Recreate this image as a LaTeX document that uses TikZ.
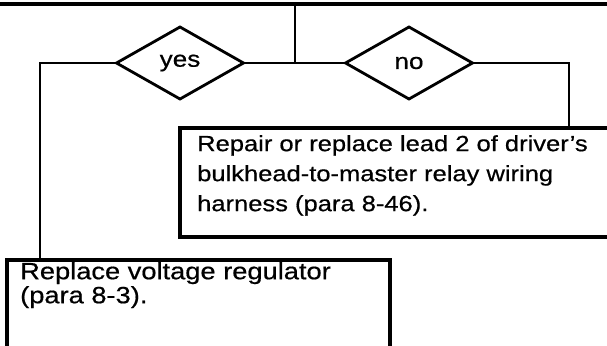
\documentclass[tikz,border=0pt]{standalone}
\usepackage{fontspec}
\newfontfamily\flowfont[FakeStretch=1.16, FakeBold=0.6]{Liberation Sans}
\usetikzlibrary{shapes.geometric, positioning}

\begin{document}
\begin{tikzpicture}[x=1pt, y=-1pt,
  decision/.style={diamond, draw, line width=2.8pt, minimum width=127pt,
    minimum height=72pt, inner sep=0pt, outer sep=0pt,
    font=\flowfont\fontsize{22.5}{26}\selectfont},
  actionbox/.style={rectangle, draw, line width=3.3pt, inner sep=0pt,
    outer sep=0pt, anchor=north west},
  boxtext/.style={align=left, inner sep=0pt, anchor=north west},
  flowline/.style={line width=2.8pt}]
  \useasboundingbox (0,0) rectangle (607,345);
  \clip (0,0) rectangle (607,345);

  % previous step, only its bottom edge is in view
  \node[actionbox, anchor=south west, line width=3.8pt, minimum width=660pt,
    minimum height=60pt] (prevstep) at (-20,4) {};

  % the two answers
  \node[decision] (yes) at (180,63) {yes};
  \node[decision] (no) at (409,63) {no};

  % actions
  \node[actionbox, minimum width=460pt, minimum height=109pt] (repair) at (180,128) {};
  \node[boxtext, font=\flowfont\fontsize{22}{30}\selectfont] (repairtxt)
    at ([xshift=17pt, yshift=-7pt]repair.north west)
    {Repair or replace lead 2 of driver’s\\bulkhead-to-master relay wiring\\harness (para 8-46).};

  \node[actionbox, minimum width=383pt, minimum height=110pt] (replace) at (7,260) {};
  \node[boxtext, font=\flowfont\fontsize{23.5}{24}\selectfont] (replacetxt)
    at ([xshift=13pt, yshift=-2pt]replace.north west)
    {Replace voltage regulator\\(para 8-3).};

  % connectors
  \coordinate (junction) at (295,63);
  \draw[flowline] (yes.east) -- (no.west);
  \draw[flowline] (prevstep.south -| junction) -- (junction);
  \draw[flowline] (yes.west) -| ([xshift=33pt]replace.north west);
  \draw[flowline] (no.east) -| ([xshift=389pt]repair.north west);
\end{tikzpicture}
\end{document}
